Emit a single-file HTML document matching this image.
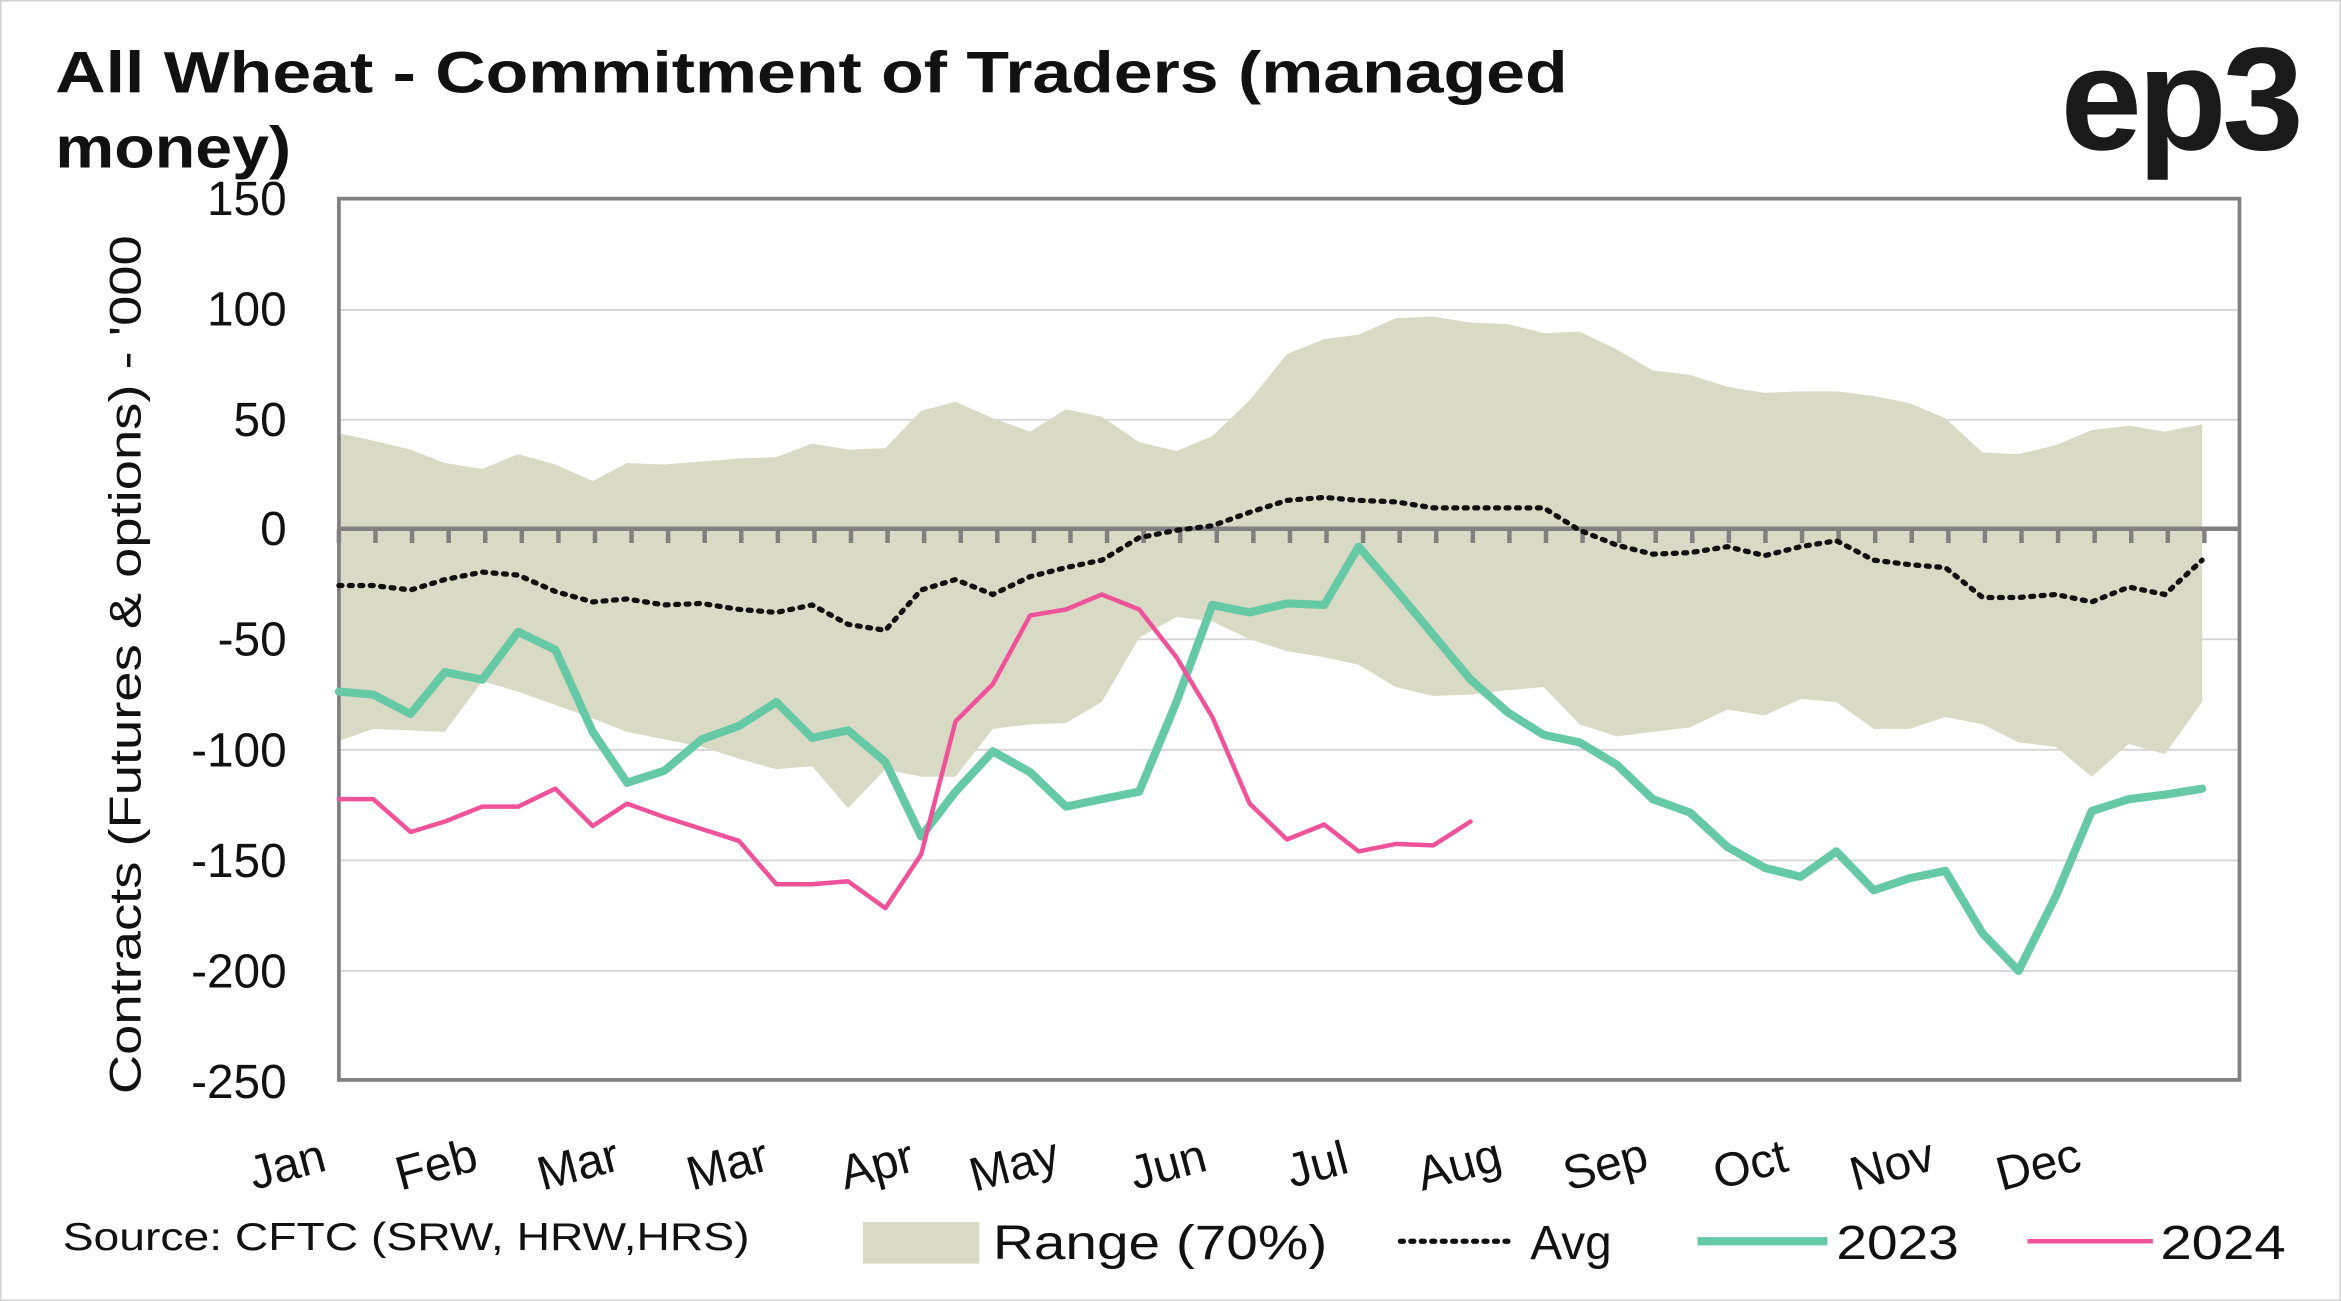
<!DOCTYPE html>
<html><head><meta charset="utf-8"><style>html,body{margin:0;padding:0;background:#fff}svg{display:block}</style></head><body>
<svg width="2341" height="1301" viewBox="0 0 1568 871" preserveAspectRatio="none" xmlns="http://www.w3.org/2000/svg" font-family="Liberation Sans, sans-serif">
<rect x="0.5" y="0.5" width="1567" height="870" fill="#fff" stroke="#d0d0d0"/>
<text x="37" y="62" font-size="39" font-weight="bold" fill="#111" textLength="1013" lengthAdjust="spacingAndGlyphs">All Wheat - Commitment of Traders (managed</text>
<text x="37" y="112" font-size="39" font-weight="bold" fill="#111" textLength="158" lengthAdjust="spacingAndGlyphs">money)</text>
<text x="1540" y="100" font-size="98" font-weight="bold" fill="#1a1a1a" text-anchor="end" letter-spacing="-3">ep3</text>
<g stroke="#d4d4d4" stroke-width="1.2">
<line x1="227" y1="207.5" x2="1500" y2="207.5"/><line x1="227" y1="281" x2="1500" y2="281"/>
<line x1="227" y1="428" x2="1500" y2="428"/><line x1="227" y1="502" x2="1500" y2="502"/>
<line x1="227" y1="576" x2="1500" y2="576"/><line x1="227" y1="650" x2="1500" y2="650"/>
</g>
<polygon fill="#d9dac5" points="227,290 250,295 275,301 298,310 323,314 347,304 372,311 397,322 420,310 445,311 470,309 495,307 520,306 544,297 568,301 593,300 617,275 640,269 665,280 690,289 714,274 738,279 763,296 788,302 812,292 837,268 862,237 887,227 910,224 935,213 960,212 985,216 1010,217 1034,223 1058,222 1083,234 1107,248 1132,251 1157,259 1182,263 1206,262 1230,262 1255,265 1279,270 1303,280 1328,303 1352,304 1377,298 1401,288 1426,285 1450,289 1475,284 1475,470 1450,505 1426,498 1401,520 1377,500 1352,497 1328,485 1303,480 1279,488 1255,488 1230,470 1206,468 1182,479 1157,475 1132,487 1107,490 1083,493 1058,485 1034,460 1010,462 985,465 960,466 935,460 910,445 887,440 862,436 837,428 812,416 788,413 763,427 738,470 714,484 690,485 665,488 640,520 617,520 593,515 568,541 544,513 520,515 495,508 470,500 445,495 420,490 397,481 372,472 347,463 323,456 298,490 275,489 250,488 227,496"/>
<line x1="227" y1="354" x2="1500" y2="354" stroke="#808080" stroke-width="3"/>
<line x1="225.5" y1="359" x2="1480" y2="359" stroke="#808080" stroke-width="9" stroke-dasharray="3 21.5"/>
<rect x="227" y="133" width="1273" height="590" fill="none" stroke="#808080" stroke-width="2.5"/>
<polyline fill="none" stroke="#111" stroke-width="3.5" stroke-dasharray="2,5" stroke-linecap="round" points="227,392 250,392 275,395 298,388 323,383 347,385 372,396 397,403 420,401 445,405 470,404 495,408 520,410 544,405 568,418 593,422 617,395 640,388 665,398 690,386 714,380 738,375 763,360 788,355 812,352 837,343 862,335 887,333 910,335 935,336 960,340 985,340 1010,340 1034,340 1058,355 1083,365 1107,371 1132,370 1157,366 1182,372 1206,366 1230,362 1255,375 1279,378 1303,380 1328,400 1352,400 1377,398 1401,403 1426,393 1450,398 1475,375"/>
<polyline fill="none" stroke="#66c9a6" stroke-width="5.5" stroke-linejoin="round" stroke-linecap="round" points="227,463 250,465 275,478 298,450 323,455 347,423 372,435 397,490 420,524 445,516 470,495 495,486 520,470 544,494 568,489 593,510 617,560 640,530 665,503 690,517 714,540 738,535 763,530 788,470 812,405 837,410 862,404 887,405 910,366 935,395 960,425 985,455 1010,477 1034,492 1058,497 1083,512 1107,535 1132,544 1157,567 1182,581 1206,587 1230,570 1255,596 1279,588 1303,583 1328,625 1352,650 1377,600 1401,543 1426,535 1450,532 1475,528"/>
<polyline fill="none" stroke="#f0529a" stroke-width="3" stroke-linejoin="round" stroke-linecap="round" points="227,535 250,535 275,557 298,550 323,540 347,540 372,528 397,553 420,538 445,547 470,555 495,563 520,592 544,592 568,590 593,608 617,572 640,483 665,458 690,412 714,408 738,398 763,408 788,440 812,480 837,538 862,562 887,552 910,570 935,565 960,566 985,550"/>
<g font-size="32" fill="#111" text-anchor="end">
<text x="192" y="144">150</text><text x="192" y="218">100</text><text x="192" y="292">50</text><text x="192" y="365">0</text>
<text x="192" y="439">-50</text><text x="192" y="513">-100</text><text x="192" y="587">-150</text><text x="192" y="661">-200</text><text x="192" y="735">-250</text>
</g>
<text transform="translate(94,445) rotate(-90)" font-size="30" fill="#111" text-anchor="middle" textLength="575" lengthAdjust="spacingAndGlyphs">Contracts (Futures &amp; options) - '000</text>
<g font-size="32" fill="#111" text-anchor="middle">
<text transform="translate(195,790) rotate(-15)">Jan</text><text transform="translate(295,790) rotate(-15)">Feb</text>
<text transform="translate(390,790) rotate(-15)">Mar</text><text transform="translate(490,790) rotate(-15)">Mar</text>
<text transform="translate(590,790) rotate(-15)">Apr</text><text transform="translate(682,790) rotate(-15)">May</text>
<text transform="translate(785,790) rotate(-15)">Jun</text><text transform="translate(885,790) rotate(-15)">Jul</text>
<text transform="translate(980,790) rotate(-15)">Aug</text><text transform="translate(1078,790) rotate(-15)">Sep</text>
<text transform="translate(1175,790) rotate(-15)">Oct</text><text transform="translate(1270,790) rotate(-15)">Nov</text>
<text transform="translate(1368,790) rotate(-15)">Dec</text>
</g>
<text x="42" y="837" font-size="26" fill="#111" textLength="460" lengthAdjust="spacingAndGlyphs">Source: CFTC (SRW, HRW,HRS)</text>
<rect x="578" y="818" width="78" height="28" fill="#d9dac5"/>
<text x="665" y="843" font-size="32" fill="#111" textLength="224" lengthAdjust="spacingAndGlyphs">Range (70%)</text>
<line x1="938" y1="831" x2="1015" y2="831" stroke="#111" stroke-width="3.5" stroke-dasharray="2,5" stroke-linecap="round"/>
<text x="1025" y="843" font-size="32" fill="#111">Avg</text>
<line x1="1137" y1="831" x2="1224" y2="831" stroke="#66c9a6" stroke-width="5.5"/>
<text x="1230" y="843" font-size="32" fill="#111" textLength="82" lengthAdjust="spacingAndGlyphs">2023</text>
<line x1="1358" y1="831" x2="1442" y2="831" stroke="#f0529a" stroke-width="3"/>
<text x="1447" y="843" font-size="32" fill="#111" textLength="84" lengthAdjust="spacingAndGlyphs">2024</text>
</svg>
</body></html>
